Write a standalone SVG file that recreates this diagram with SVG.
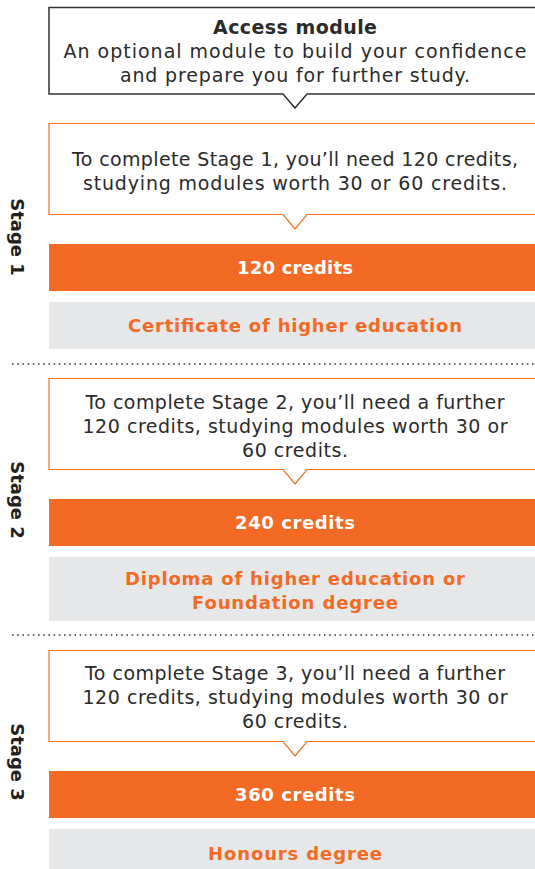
<svg xmlns="http://www.w3.org/2000/svg" width="535" height="869" viewBox="0 0 535 869">
<style>
text{font-family:"DejaVu Sans","Noto Sans",sans-serif;text-anchor:middle}
.t{font-size:19px;fill:#2b2b2b}
.b{font-weight:bold}
.w{font-size:18px;font-weight:bold;fill:#fff}
.o{font-size:18px;font-weight:bold;fill:#f26a24}
.s{font-size:18px;font-weight:bold;fill:#231f20}
.bubble{fill:#fff;stroke:#f37021;stroke-width:1.2}
.bar{fill:#f26a24}
.grey{fill:#e6e7e8}
.dot{stroke:#333;stroke-width:1.6;stroke-dasharray:1.6 3.6;fill:none}
</style>
<rect width="535" height="869" fill="#fff"/>
<g id="access">
<path d="M49,7.5 H540 V94 H307 L295,108 L283,94 H49 Z" fill="#fff" stroke="#333" stroke-width="1.5"/>
<text class="t b" x="295" y="34" textLength="164">Access module</text>
<text class="t" x="295" y="58" textLength="463">An optional module to build your confidence</text>
<text class="t" x="295" y="82" textLength="350">and prepare you for further study.</text>
</g>
<g id="stage1">
<text class="s" transform="translate(11,237) rotate(90)">Stage 1</text>
<g id="s1-info">
<path class="bubble" d="M49,123.5 H540 V214.5 H307 L295,229 L283,214.5 H49 Z"/>
<text class="t" x="295" y="166" textLength="446">To complete Stage 1, you’ll need 120 credits,</text>
<text class="t" x="295" y="190" textLength="424">studying modules worth 30 or 60 credits.</text>
</g>
<g id="s1-credits"><rect class="bar" x="49" y="244" width="490" height="47"/><text class="w" x="295" y="274" textLength="116">120 credits</text></g>
<g id="s1-award"><rect class="grey" x="49" y="302" width="490" height="47"/><text class="o" x="295" y="332" textLength="334">Certificate of higher education</text></g>
</g>
<g id="stage2">
<text class="s" transform="translate(11,500) rotate(90)">Stage 2</text>
<g id="s2-info">
<path class="bubble" d="M49,378.5 H540 V469.5 H307 L295,484 L283,469.5 H49 Z"/>
<text class="t" x="295" y="409" textLength="419">To complete Stage 2, you’ll need a further</text>
<text class="t" x="295" y="433" textLength="425">120 credits, studying modules worth 30 or</text>
<text class="t" x="295" y="457" textLength="106">60 credits.</text>
</g>
<g id="s2-credits"><rect class="bar" x="49" y="499" width="490" height="47"/><text class="w" x="295" y="529" textLength="120">240 credits</text></g>
<g id="s2-award"><rect class="grey" x="49" y="557" width="490" height="64"/><text class="o" x="295" y="585" textLength="340">Diploma of higher education or</text><text class="o" x="295" y="609" textLength="206">Foundation degree</text></g>
</g>
<g id="stage3">
<text class="s" transform="translate(11,762) rotate(90)">Stage 3</text>
<g id="s3-info">
<path class="bubble" d="M49,650.5 H540 V741.5 H307 L295,756 L283,741.5 H49 Z"/>
<text class="t" x="295" y="680" textLength="420">To complete Stage 3, you’ll need a further</text>
<text class="t" x="295" y="704" textLength="425">120 credits, studying modules worth 30 or</text>
<text class="t" x="295" y="728" textLength="106">60 credits.</text>
</g>
<g id="s3-credits"><rect class="bar" x="49" y="771" width="490" height="47"/><text class="w" x="295" y="801" textLength="120">360 credits</text></g>
<g id="s3-award"><rect class="grey" x="49" y="829" width="490" height="45"/><text class="o" x="295" y="860" textLength="174">Honours degree</text></g>
</g>
<g id="connectors">
<line class="dot" x1="12" y1="364" x2="535" y2="364"/>
<line class="dot" x1="12" y1="635" x2="535" y2="635"/>
</g>
</svg>
